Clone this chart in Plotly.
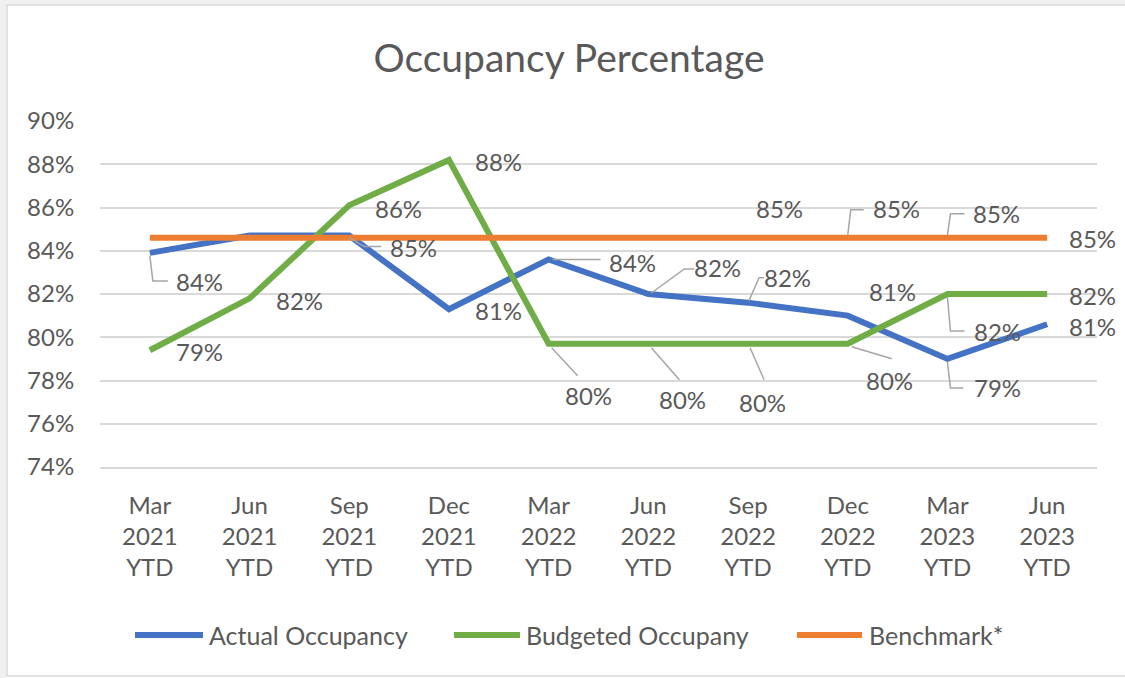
import plotly.graph_objects as go

# ---------------- data ----------------
categories = ["Mar 2021 YTD", "Jun 2021 YTD", "Sep 2021 YTD", "Dec 2021 YTD",
              "Mar 2022 YTD", "Jun 2022 YTD", "Sep 2022 YTD", "Dec 2022 YTD",
              "Mar 2023 YTD", "Jun 2023 YTD"]
tick_labels = ["Mar<br>2021<br>YTD", "Jun<br>2021<br>YTD", "Sep<br>2021<br>YTD",
               "Dec<br>2021<br>YTD", "Mar<br>2022<br>YTD", "Jun<br>2022<br>YTD",
               "Sep<br>2022<br>YTD", "Dec<br>2022<br>YTD", "Mar<br>2023<br>YTD",
               "Jun<br>2023<br>YTD"]
actual = [83.9, 84.7, 84.7, 81.3, 83.6, 82.0, 81.6, 81.0, 79.0, 80.6]
budget = [79.4, 81.8, 86.1, 88.2, 79.7, 79.7, 79.7, 79.7, 82.0, 82.0]
benchmark = [84.6, 84.6, 84.6, 84.6, 84.6, 84.6, 84.6, 84.6, 84.6, 84.6]
series_names = ["Actual Occupancy", "Budgeted Occupany", "Benchmark*"]
y_ticks = [74, 76, 78, 80, 82, 84, 86, 88, 90]

# ---------------- style ----------------
FONT = "Lato"
TXT = "#595959"
GRID = "#d9d9d9"
LEADER = "#a6a6a6"
colors = ["#4472C4", "#70AD47", "#ED7D31"]
W, H = 1125, 678
L, R, T, B = 100, 28, 121, 211
PW, PH = W - L - R, H - T - B

def px_x(px):
    return (px - L) / PW

def px_y(py):
    return (H - B - py) / PH

series = [actual, budget, benchmark]
fig = go.Figure()
for name, vals, col in zip(series_names, series, colors):
    fig.add_trace(go.Scatter(x=categories, y=vals, mode="lines", name=name,
                             line=dict(color=col, width=6), showlegend=False,
                             hoverinfo="x+y"))

# data labels: (series index, point index, dx, dy, leader path in pixels or None)
label_cfg = [
    (0, 0, 50, -29, "M0,-3 L3,-28 L18,-28"),
    (0, 2, 64, -12, "M0,-2 L15,-11 L32,-11"),
    (0, 3, 50, -1, None),
    (0, 4, 84, -3, "M4,0 L52,0"),
    (0, 5, 69, 27, "M3,1 L36,25 L46,25"),
    (0, 6, 39, 25, "M1,2 L11,25 L16,25"),
    (0, 7, 45, 24, None),
    (0, 8, 50, -29, "M0,-3 L3,-29 L16,-29"),
    (0, 9, 45, -2, None),
    (1, 0, 50, -1, None),
    (1, 1, 50, -2, None),
    (1, 2, 49, -3, None),
    (1, 3, 50, -2, None),
    (1, 4, 40, -52, "M3,-4 L29,-32"),
    (1, 5, 34, -56, "M3,-4 L31,-36"),
    (1, 6, 14, -59, "M2,-4 L16,-36"),
    (1, 7, 42, -37, "M4,-3 L44,-15"),
    (1, 8, 50, -37, "M0,-3 L3,-37 L17,-37"),
    (1, 9, 45, -1, None),
    (2, 6, 31, 29, None),
    (2, 7, 49, 29, "M0,3 L3,28 L16,28"),
    (2, 8, 49, 24, "M0,3 L3,24 L17,24"),
    (2, 9, 45, -1, None),
]

annotations = []
shapes = []
for s, i, dx, dy, path in label_cfg:
    v = series[s][i]
    annotations.append(dict(x=categories[i], y=v, xref="x", yref="y",
                            text=f"{round(v)}%", showarrow=False,
                            xshift=dx, yshift=dy,
                            font=dict(family=FONT, size=24, color=TXT)))
    if path:
        shapes.append(dict(type="path", xref="x", yref="y",
                           xsizemode="pixel", ysizemode="pixel",
                           xanchor=i, yanchor=v, path=path,
                           line=dict(color=LEADER, width=1.5)))

# custom legend (long line samples like the original)
legend_items = [(135, 203, 207), (454, 520, 524), (797, 862, 867)]
ly = px_y(635)
for (x0, x1, tx), name, col in zip(legend_items, series_names, colors):
    shapes.append(dict(type="line", xref="paper", yref="paper",
                       x0=px_x(x0), x1=px_x(x1), y0=ly, y1=ly,
                       line=dict(color=col, width=6)))
    annotations.append(dict(x=px_x(tx), y=ly, xref="paper", yref="paper",
                            text=name, showarrow=False, xanchor="left",
                            yanchor="middle",
                            font=dict(family=FONT, size=25, color=TXT)))

# outer frame like the screenshot
shapes.append(dict(type="rect", xref="paper", yref="paper", layer="below",
                   x0=px_x(-2), x1=px_x(6), y0=px_y(H + 2), y1=px_y(-2),
                   fillcolor="#f0f0f0", line=dict(width=0)))
shapes.append(dict(type="rect", xref="paper", yref="paper", layer="below",
                   x0=px_x(-2), x1=px_x(W + 2), y0=px_y(4), y1=px_y(-2),
                   fillcolor="#f0f0f0", line=dict(width=0)))
shapes.append(dict(type="rect", xref="paper", yref="paper", layer="below",
                   x0=px_x(7), x1=px_x(W + 10), y0=px_y(676), y1=px_y(5),
                   fillcolor="rgba(0,0,0,0)", line=dict(color=GRID, width=1.5)))

fig.update_layout(
    width=W, height=H,
    margin=dict(l=L, r=R, t=T, b=B),
    paper_bgcolor="white", plot_bgcolor="white",
    font=dict(family=FONT, color=TXT),
    title=dict(text="Occupancy Percentage", x=569 / W, xanchor="center",
               y=1 - 58 / H, yanchor="middle", xref="container", yref="container",
               font=dict(family=FONT, size=39, color=TXT)),
    showlegend=False,
    annotations=annotations,
    shapes=shapes,
    hovermode="closest",
)
fig.update_xaxes(type="category", categoryorder="array", categoryarray=categories,
                 tickmode="array", tickvals=categories, ticktext=tick_labels,
                 showgrid=False, zeroline=False, showline=True,
                 linecolor=GRID, linewidth=1.5,
                 ticks="outside", ticklen=16, tickcolor="rgba(0,0,0,0)",
                 tickfont=dict(family=FONT, size=24, color=TXT),
                 range=[-0.5, len(categories) - 0.5])
fig.update_yaxes(range=[74, 90], tickmode="array", tickvals=y_ticks,
                 ticktext=[f"{t}%" for t in y_ticks],
                 showgrid=True, gridcolor=GRID, gridwidth=1.5,
                 zeroline=False, showline=False,
                 ticks="outside", ticklen=20, tickcolor="rgba(0,0,0,0)",
                 tickfont=dict(family=FONT, size=24, color=TXT))

fig.write_html("out.html", config={"displayModeBar": False},
               post_script="document.body.style.margin='0';"
                           "document.body.style.overflow='hidden';")
